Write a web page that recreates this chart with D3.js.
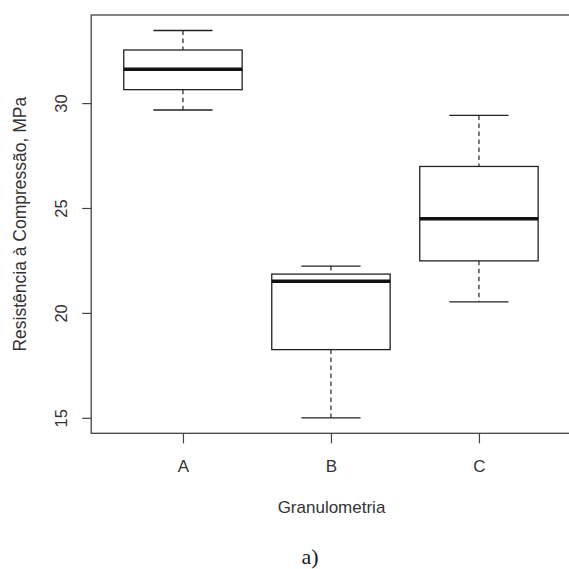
<!DOCTYPE html>
<html>
<head>
<meta charset="utf-8">
<script src="https://cdn.jsdelivr.net/npm/d3@7"></script>
<style>
  html, body { margin: 0; padding: 0; background: #fff; }
  svg { display: block; }
</style>
</head>
<body>
<script>
// ---- data ----
const categories = ["A", "B", "C"];
const whiskerLow  = [29.67, 15.00, 20.53];
const q1          = [30.64, 18.25, 22.48];
const median      = [31.61, 21.51, 24.49];
const q3          = [32.53, 21.85, 26.98];
const whiskerHigh = [33.46, 22.23, 29.41];
const yTicks = [15, 20, 25, 30];
const xLabel = "Granulometria";
const yLabel = "Resistência à Compressão, MPa";
const caption = "a)";

const W = 569, H = 569;
const svg = d3.select("body").append("svg").attr("width", W).attr("height", H);

const pL = 91.2, pR = 570.7, pT = 15, pB = 433.3;

// R-style axis extension (4%)
const x = d3.scaleLinear().domain([0.38, 3.62]).range([pL, pR]);
const dmin = d3.min(whiskerLow), dmax = d3.max(whiskerHigh);
const pad = (dmax - dmin) * 0.04;
const y = d3.scaleLinear().domain([dmin - pad, dmax + pad]).range([pB, pT]);

const ink = "#222";
const frameCol = "#444";
const sans = "'Liberation Sans', Arial, sans-serif";

// frame
svg.append("rect")
  .attr("x", pL).attr("y", pT)
  .attr("width", pR - pL).attr("height", pB - pT)
  .attr("fill", "none").attr("stroke", frameCol).attr("stroke-width", 1.3);

// y axis
const yAxis = d3.axisLeft(y).tickValues(yTicks).tickSize(9).tickFormat(d3.format("d"));
const gy = svg.append("g").attr("transform", `translate(${pL},0)`).call(yAxis);
gy.select(".domain").remove();
gy.selectAll(".tick line").attr("stroke", frameCol).attr("stroke-width", 1.2);
gy.selectAll(".tick text")
  .attr("x", 0).attr("y", 0).attr("dy", 0)
  .attr("transform", "translate(-24,0) rotate(-90)")
  .attr("text-anchor", "middle")
  .attr("fill", "#333")
  .style("font-family", sans)
  .style("font-size", "16.5px");

// x axis
const xAxis = d3.axisBottom(x).tickValues([1, 2, 3]).tickSize(10)
  .tickFormat((d) => categories[d - 1]);
const gx = svg.append("g").attr("transform", `translate(0,${pB})`).call(xAxis);
gx.select(".domain").remove();
gx.selectAll(".tick line").attr("stroke", frameCol).attr("stroke-width", 1.2);
gx.selectAll(".tick text")
  .attr("y", 38.5).attr("dy", 0)
  .attr("fill", "#333")
  .style("font-family", sans)
  .style("font-size", "17px");

// boxes
const bw = 0.4, sw = 0.2;
const data = categories.map((c, i) => ({
  i: i + 1, lo: whiskerLow[i], q1: q1[i], med: median[i], q3: q3[i], hi: whiskerHigh[i]
}));
const g = svg.append("g");
const b = g.selectAll("g.box").data(data).join("g").attr("class", "box");

// whiskers (dashed)
b.append("line")
  .attr("x1", (d) => x(d.i)).attr("x2", (d) => x(d.i))
  .attr("y1", (d) => y(d.hi)).attr("y2", (d) => y(d.q3))
  .attr("stroke", ink).attr("stroke-width", 1.2).attr("stroke-dasharray", "4.5,3.5");
b.append("line")
  .attr("x1", (d) => x(d.i)).attr("x2", (d) => x(d.i))
  .attr("y1", (d) => y(d.q1)).attr("y2", (d) => y(d.lo))
  .attr("stroke", ink).attr("stroke-width", 1.2).attr("stroke-dasharray", "4.5,3.5");
// staples
b.append("line")
  .attr("x1", (d) => x(d.i - sw)).attr("x2", (d) => x(d.i + sw))
  .attr("y1", (d) => y(d.hi)).attr("y2", (d) => y(d.hi))
  .attr("stroke", ink).attr("stroke-width", 1.3);
b.append("line")
  .attr("x1", (d) => x(d.i - sw)).attr("x2", (d) => x(d.i + sw))
  .attr("y1", (d) => y(d.lo)).attr("y2", (d) => y(d.lo))
  .attr("stroke", ink).attr("stroke-width", 1.3);
// box
b.append("rect")
  .attr("x", (d) => x(d.i - bw)).attr("width", (d) => x(d.i + bw) - x(d.i - bw))
  .attr("y", (d) => y(d.q3)).attr("height", (d) => y(d.q1) - y(d.q3))
  .attr("fill", "#fff").attr("stroke", ink).attr("stroke-width", 1.3);
// median
b.append("line")
  .attr("x1", (d) => x(d.i - bw)).attr("x2", (d) => x(d.i + bw))
  .attr("y1", (d) => y(d.med)).attr("y2", (d) => y(d.med))
  .attr("stroke", "#111").attr("stroke-width", 3.6);

// axis titles
svg.append("text")
  .attr("x", 331.5).attr("y", 513)
  .attr("text-anchor", "middle")
  .attr("fill", "#333")
  .style("font-family", sans)
  .style("font-size", "17px")
  .text(xLabel);

svg.append("text")
  .attr("transform", `translate(26,${(pT + pB) / 2}) rotate(-90)`)
  .attr("text-anchor", "middle")
  .attr("fill", "#333")
  .style("font-family", sans)
  .style("font-size", "17.5px")
  .text(yLabel);

svg.append("text")
  .attr("x", 310).attr("y", 564)
  .attr("text-anchor", "middle")
  .attr("fill", "#1a1a1a")
  .style("font-family", "'Liberation Serif', 'Times New Roman', serif")
  .style("font-size", "22px")
  .text(caption);
</script>
</body>
</html>
